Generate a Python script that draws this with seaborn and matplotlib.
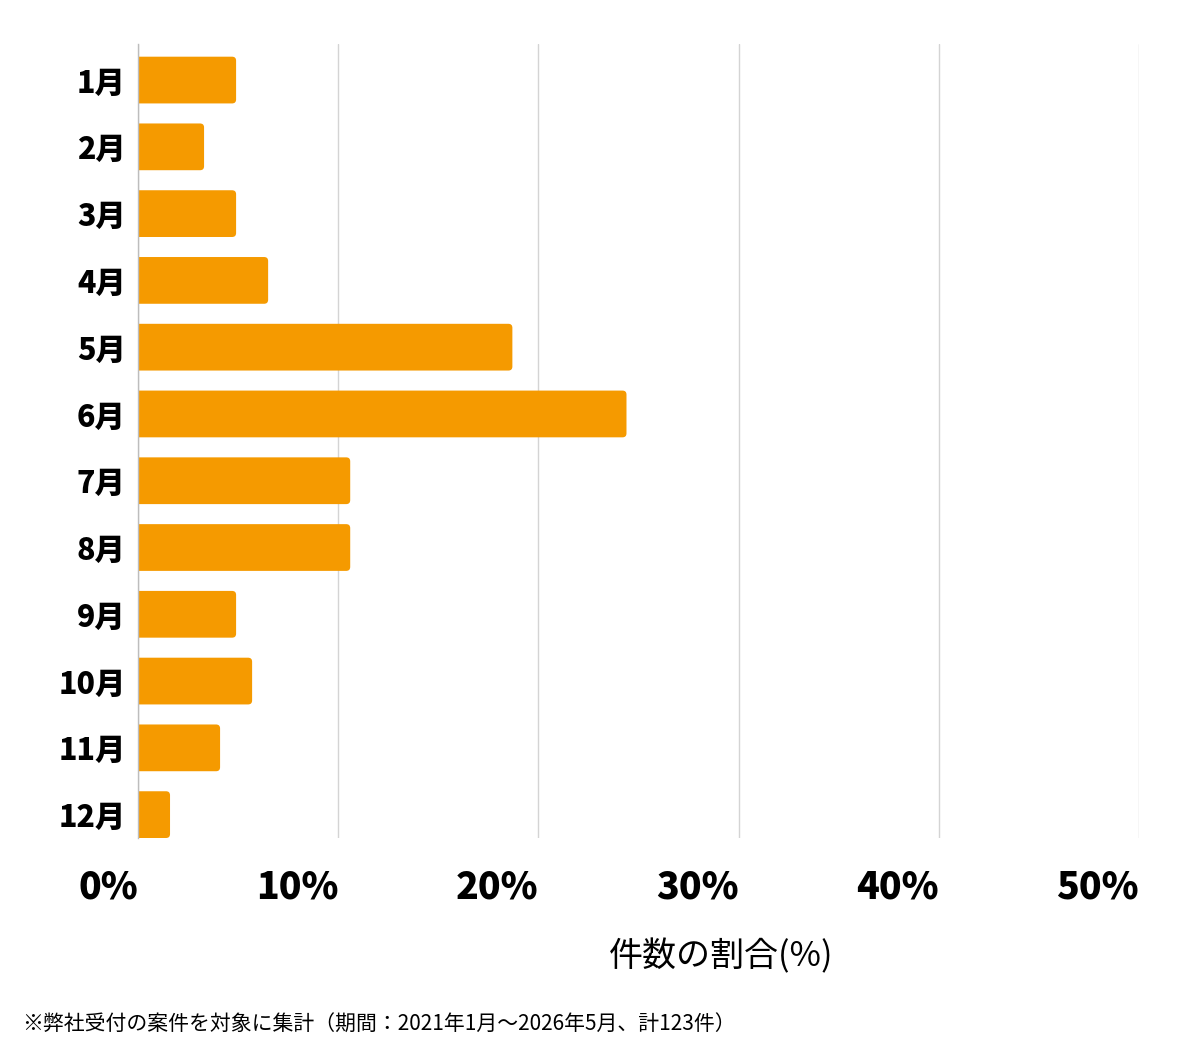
import matplotlib
matplotlib.use("Agg")
import matplotlib.pyplot as plt
from matplotlib.patches import FancyBboxPatch
import seaborn as sns
import pandas as pd

months = ["1月", "2月", "3月", "4月", "5月", "6月", "7月", "8月", "9月", "10月", "11月", "12月"]
share_pct = [4.9, 3.3, 4.9, 6.5, 18.7, 24.4, 10.6, 10.6, 4.9, 5.7, 4.1, 1.6]
x_ticks = [0, 10, 20, 30, 40, 50]
x_tick_labels = ["0%", "10%", "20%", "30%", "40%", "50%"]

BAR_COLOR = "#F59A00"
GRID_COLOR = "#d4d4d4"
TEXT_COLOR = "#000000"

sns.set_theme(style="white")
plt.rcParams["font.family"] = ["Noto Sans CJK JP", "DejaVu Sans"]

df = pd.DataFrame({"month": months, "share": share_pct})

fig = plt.figure(figsize=(12, 10.6), dpi=100)
ax = fig.add_axes([138 / 1200, 1 - 838 / 1060, (1139 - 138) / 1200, (838 - 44) / 1060])

sns.barplot(data=df, x="share", y="month", orient="h", color=BAR_COLOR,
            saturation=1, width=0.7, ax=ax)

# round the right-hand corners of each bar
for p in list(ax.patches):
    x0, y0 = p.get_x(), p.get_y()
    w, h = p.get_width(), p.get_height()
    rb = FancyBboxPatch((x0 - 0.4, y0), w + 0.4, h,
                        boxstyle="round,pad=0,rounding_size=0.2",
                        mutation_aspect=0.3, facecolor=BAR_COLOR,
                        edgecolor="none", zorder=p.get_zorder())
    p.remove()
    ax.add_patch(rb)

ax.set_xlim(0, 50)
ax.set_ylim(11.35, -0.54)
ax.set_xticks(x_ticks)
ax.set_xticklabels(x_tick_labels, fontsize=27, fontweight="heavy", color=TEXT_COLOR)
for lab in ax.get_xticklabels():
    lab.set_ha("right")
ax.tick_params(axis="x", length=0, pad=22)
ax.tick_params(axis="y", length=0, pad=9, labelsize=21.8, labelcolor=TEXT_COLOR)
for lab in ax.get_yticklabels():
    lab.set_fontweight("heavy")

ax.xaxis.grid(True, color=GRID_COLOR, linewidth=1)
ax.set_axisbelow(True)
for s in ["top", "right", "bottom"]:
    ax.spines[s].set_visible(False)
ax.spines["left"].set_color("#bdbdbd")
ax.spines["left"].set_linewidth(1)
ax.set_xlabel("")
ax.set_ylabel("")

fig.text(721 / 1200, 1 - 957 / 1060, "件数の割合(%)", fontsize=24.5,
         ha="center", va="center", color=TEXT_COLOR)
fig.text(22 / 1200, 1 - 1025 / 1060,
         "※弊社受付の案件を対象に集計（期間：2021年1月〜2026年5月、計123件）",
         fontsize=15, ha="left", va="center", color=TEXT_COLOR)

fig.savefig("out.png", dpi=100, facecolor="white")
